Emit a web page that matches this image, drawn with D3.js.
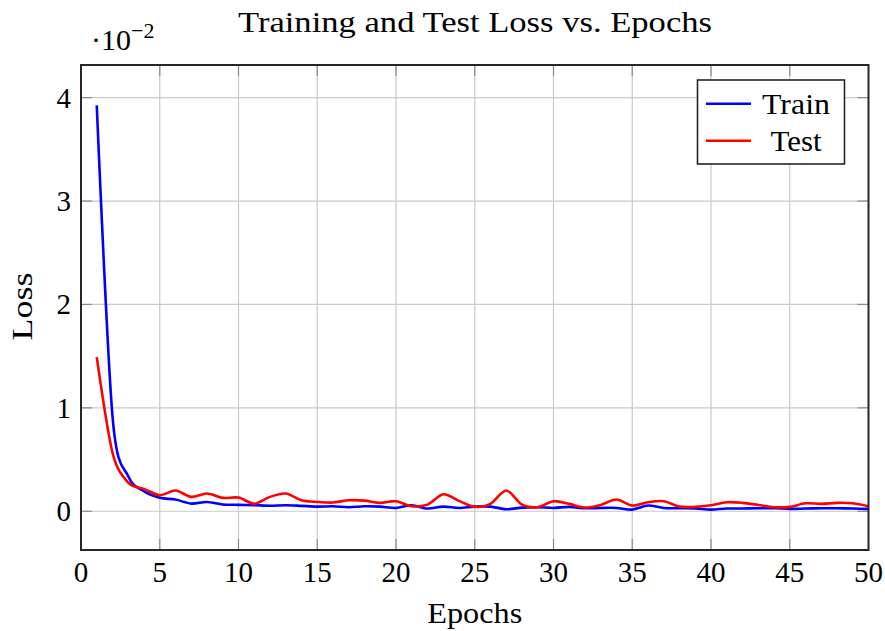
<!DOCTYPE html>
<html>
<head>
<meta charset="utf-8">
<script src="https://cdn.jsdelivr.net/npm/d3@7"></script>
<style>
  html, body { margin: 0; padding: 0; background: #fff; }
  svg { display: block; }
  text { font-family: "Liberation Serif", "DejaVu Serif", serif; fill: #000; }
</style>
</head>
<body>
<svg id="chart" width="885" height="631"></svg>
<script>
// Loss per epoch (epochs 1..50)
const epochs = d3.range(1, 51);
const trainLoss = [
  0.03925, 0.00920, 0.00338, 0.00193, 0.00130, 0.00113, 0.00074, 0.00090, 0.00065, 0.00062,
  0.00059, 0.00053, 0.00058, 0.00052, 0.00045, 0.00048, 0.00039, 0.00048, 0.00045, 0.00032,
  0.00058, 0.00026, 0.00045, 0.00032, 0.00045, 0.00045, 0.00019, 0.00035, 0.00039, 0.00032,
  0.00042, 0.00029, 0.00032, 0.00032, 0.00016, 0.00055, 0.00032, 0.00029, 0.00026, 0.00016,
  0.00026, 0.00026, 0.00029, 0.00029, 0.00023, 0.00026, 0.00029, 0.00029, 0.00026, 0.00023
];
const testLoss = [
  0.01490, 0.00566, 0.00277, 0.00216, 0.00155, 0.00200, 0.00139, 0.00171, 0.00129, 0.00132,
  0.00073, 0.00139, 0.00171, 0.00106, 0.00090, 0.00084, 0.00106, 0.00103, 0.00081, 0.00097,
  0.00048, 0.00064, 0.00164, 0.00100, 0.00042, 0.00071, 0.00200, 0.00064, 0.00039, 0.00097,
  0.00071, 0.00035, 0.00061, 0.00113, 0.00055, 0.00087, 0.00097, 0.00045, 0.00042, 0.00058,
  0.00087, 0.00081, 0.00061, 0.00039, 0.00042, 0.00077, 0.00071, 0.00081, 0.00077, 0.00048
];
const xTicks = [0, 5, 10, 15, 20, 25, 30, 35, 40, 45, 50];
const yTicks = [0, 0.01, 0.02, 0.03, 0.04];
const seriesNames = ["Train", "Test"];
const seriesColors = ["#0000ff", "#ff0000"];

const svg = d3.select("#chart");
const plot = { left: 81, right: 868.5, top: 65, bottom: 550 };

const x = d3.scaleLinear().domain([0, 50]).range([plot.left, plot.right]);

// y limits enlarged by 10% of the data range, as pgfplots does
const all = trainLoss.concat(testLoss);
const lo = d3.min(all), hi = d3.max(all), pad = (hi - lo) * 0.1;
const y = d3.scaleLinear().domain([lo - pad, hi + pad]).range([plot.bottom, plot.top]);

// grid
const grid = svg.append("g").attr("stroke", "#c9c9c9").attr("stroke-width", 1.2);
grid.selectAll("line.gx").data(xTicks.slice(1, -1)).join("line")
  .attr("x1", d => x(d)).attr("x2", d => x(d))
  .attr("y1", plot.top).attr("y2", plot.bottom);
grid.selectAll("line.gy").data(yTicks).join("line")
  .attr("x1", plot.left).attr("x2", plot.right)
  .attr("y1", d => y(d)).attr("y2", d => y(d));

// inner tick marks on all four sides
const tickLen = 11;
const ticks = svg.append("g").attr("stroke", "#8a8a8a").attr("stroke-width", 1.2);
xTicks.slice(1, -1).forEach(t => {
  ticks.append("line").attr("x1", x(t)).attr("x2", x(t)).attr("y1", plot.bottom).attr("y2", plot.bottom - tickLen);
  ticks.append("line").attr("x1", x(t)).attr("x2", x(t)).attr("y1", plot.top).attr("y2", plot.top + tickLen);
});
yTicks.forEach(t => {
  ticks.append("line").attr("x1", plot.left).attr("x2", plot.left + tickLen).attr("y1", y(t)).attr("y2", y(t));
  ticks.append("line").attr("x1", plot.right).attr("x2", plot.right - tickLen).attr("y1", y(t)).attr("y2", y(t));
});

// data lines
svg.append("clipPath").attr("id", "clip").append("rect")
  .attr("x", plot.left).attr("y", plot.top)
  .attr("width", plot.right - plot.left).attr("height", plot.bottom - plot.top);

const line = d3.line()
  .x((d, i) => x(epochs[i]))
  .y(d => y(d))
  .curve(d3.curveCardinal.tension(0.1));

const lines = svg.append("g").attr("clip-path", "url(#clip)");
[trainLoss, testLoss].forEach((s, k) => {
  lines.append("path").datum(s)
    .attr("fill", "none")
    .attr("stroke", seriesColors[k])
    .attr("stroke-width", 2.6)
    .attr("stroke-linejoin", "round")
    .attr("d", line);
});

// frame
svg.append("rect")
  .attr("x", plot.left).attr("y", plot.top)
  .attr("width", plot.right - plot.left).attr("height", plot.bottom - plot.top)
  .attr("fill", "none").attr("stroke", "#262626").attr("stroke-width", 2);

// tick labels
const fs = 29;
svg.append("g").selectAll("text").data(xTicks).join("text")
  .attr("x", d => x(d)).attr("y", 582)
  .attr("text-anchor", "middle").attr("font-size", fs)
  .text(d => d);
svg.append("g").selectAll("text").data(yTicks).join("text")
  .attr("x", 71).attr("y", d => y(d) + 10)
  .attr("text-anchor", "end").attr("font-size", fs)
  .text(d => Math.round(d * 100));

// scale factor label
const sf = svg.append("text").attr("x", 91).attr("y", 50).attr("font-size", 30);
sf.append("tspan").text("·10");
sf.append("tspan").attr("dy", -12).attr("font-size", 22).text("−2");

// wider text run, stretched to a fixed width
function label(sel, w) {
  return sel.attr("textLength", w).attr("lengthAdjust", "spacingAndGlyphs");
}

// axis labels and title
label(svg.append("text").attr("x", x(25)).attr("y", 623)
  .attr("text-anchor", "middle").attr("font-size", 30).text("Epochs"), 95);
label(svg.append("text")
  .attr("transform", `translate(32, ${(plot.top + plot.bottom) / 2 - 1}) rotate(-90)`)
  .attr("text-anchor", "middle").attr("font-size", 30).text("Loss"), 68);
label(svg.append("text").attr("x", 475).attr("y", 32)
  .attr("text-anchor", "middle").attr("font-size", 30).text("Training and Test Loss vs. Epochs"), 474);

// legend
const lg = svg.append("g");
lg.append("rect").attr("x", 697.5).attr("y", 80).attr("width", 147).attr("height", 84)
  .attr("fill", "#fff").attr("stroke", "#262626").attr("stroke-width", 1.6);
const legendW = [68, 51];
seriesNames.forEach((n, k) => {
  const yy = 103.7 + k * 37;
  lg.append("line").attr("x1", 706).attr("x2", 751).attr("y1", yy).attr("y2", yy)
    .attr("stroke", seriesColors[k]).attr("stroke-width", 2.6);
  label(lg.append("text").attr("x", 796).attr("y", yy + 10)
    .attr("text-anchor", "middle").attr("font-size", 30).text(n), legendW[k]);
});
</script>
</body>
</html>
